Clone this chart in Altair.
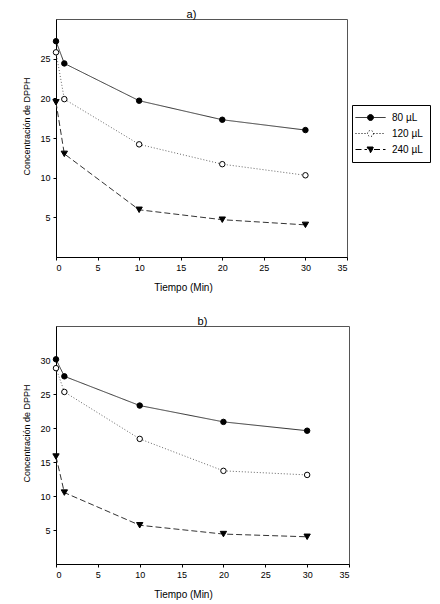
import altair as alt
import pandas as pd

# ---- data ----
tiempo = [0, 1, 10, 20, 30]
series = ["80 µL", "120 µL", "240 µL"]

a_80 = [27.2, 24.4, 19.7, 17.3, 16.0]
a_120 = [25.8, 19.9, 14.2, 11.7, 10.3]
a_240 = [19.5, 13.0, 5.95, 4.7, 4.05]

b_80 = [30.1, 27.6, 23.3, 20.9, 19.6]
b_120 = [28.8, 25.3, 18.4, 13.7, 13.1]
b_240 = [15.8, 10.5, 5.7, 4.4, 4.0]

x_ticks = [0, 5, 10, 15, 20, 25, 30, 35]
a_yticks = [5, 10, 15, 20, 25]
b_yticks = [5, 10, 15, 20, 25, 30]

FONT = "Liberation Sans"

dashes = [[1, 0], [1, 2], [6, 3]]
line_colors = ["#333333", "#666666", "#333333"]
shapes = ["circle", "circle", "triangle-down"]
fills = ["black", "white", "black"]
strokes = ["black", "black", "black"]
sizes = [30, 30, 40]
legend_paths = [
    "M-3,0L-0.6,0M0.6,0L3,0M0.6,0A0.6,0.6,0,1,1,-0.6,0A0.6,0.6,0,1,1,0.6,0Z",
    "M-3,0L-0.6,0M0.6,0L3,0M0.6,0A0.6,0.6,0,1,1,-0.6,0A0.6,0.6,0,1,1,0.6,0Z",
    "M-3,0L-0.7,0M0.7,0L3,0M-0.7,-0.5L0.7,-0.5L0,0.65Z",
]


def frame(values):
    rows = []
    for s, vals in zip(series, values):
        for t, v in zip(tiempo, vals):
            rows.append({"t": t, "v": v, "serie": s})
    return pd.DataFrame(rows)


def panel(values, ymax, yticks, title, width, height, legend, title_dx):
    df = frame(values)
    base = alt.Chart(df)
    x = alt.X("t:Q", scale=alt.Scale(domain=[0, 35], nice=False),
              axis=alt.Axis(values=x_ticks, title="Tiempo (Min)",
                            titleX=127, titlePadding=10))
    y = alt.Y("v:Q", scale=alt.Scale(domain=[0, ymax], nice=False),
              axis=alt.Axis(values=yticks, title="Concentración de DPPH",
                            titleY=height / 2 - 12, titlePadding=8,
                            titleFontSize=9))
    layers = []
    for s, d, c in zip(series, dashes, line_colors):
        layers.append(
            base.transform_filter(alt.datum.serie == s)
            .mark_line(color=c, strokeWidth=1, strokeDash=d)
            .encode(x=x, y=y)
        )
    for s, sh, f, sz in zip(series, shapes, fills, sizes):
        layers.append(
            base.transform_filter(alt.datum.serie == s)
            .mark_point(shape=sh, fill=f, stroke="black", strokeWidth=1,
                        size=sz, opacity=1, fillOpacity=1)
            .encode(x=x, y=y)
        )
    if legend:
        leg = alt.Legend(
            title=None, orient="none", legendX=296, legendY=86,
            strokeColor="black", padding=7, symbolSize=100,
            symbolStrokeColor="black", symbolStrokeWidth=1,
            symbolOffset=6, labelOffset=16, rowPadding=5,
            labelFont=FONT, labelFontSize=10, labelColor="black",
        )
        layers.append(
            base.transform_filter("false")
            .mark_point(strokeWidth=1, opacity=1)
            .encode(
                x=x, y=y,
                shape=alt.Shape("serie:N", sort=series,
                                scale=alt.Scale(domain=series, range=legend_paths),
                                legend=leg),
                fill=alt.Fill("serie:N", sort=series,
                              scale=alt.Scale(domain=series, range=fills),
                              legend=leg),
                stroke=alt.Stroke("serie:N", sort=series,
                                  scale=alt.Scale(domain=series, range=strokes),
                                  legend=leg),
                strokeDash=alt.StrokeDash("serie:N", sort=series,
                                          scale=alt.Scale(domain=series, range=dashes),
                                          legend=leg),
            )
        )
    return alt.layer(*layers).properties(
        width=width, height=height,
        title=alt.TitleParams(title, fontSize=11, font=FONT, fontWeight="normal",
                              offset=-1, dx=title_dx, color="black"),
    )


chart_a = panel([a_80, a_120, a_240], 30, a_yticks, "a)", 291, 238, True, -10)
chart_b = panel([b_80, b_120, b_240], 35, b_yticks, "b)", 293, 238, False, 0)

chart = (
    alt.vconcat(chart_a, chart_b, spacing=22)
    .properties(padding={"left": 14, "top": 0, "right": 0, "bottom": 0})
    .configure_view(stroke="#555555", strokeWidth=1)
    .configure_axis(
        grid=False, domainColor="black", tickColor="black", tickSize=3,
        labelFont=FONT, labelFontSize=9, labelColor="black", labelPadding=3,
        titleFont=FONT, titleFontSize=10, titleFontWeight="normal",
        titleColor="black", domainWidth=1, tickWidth=1,
    )
)

chart.save("out.html", embed_options={"renderer": "svg", "actions": False})
